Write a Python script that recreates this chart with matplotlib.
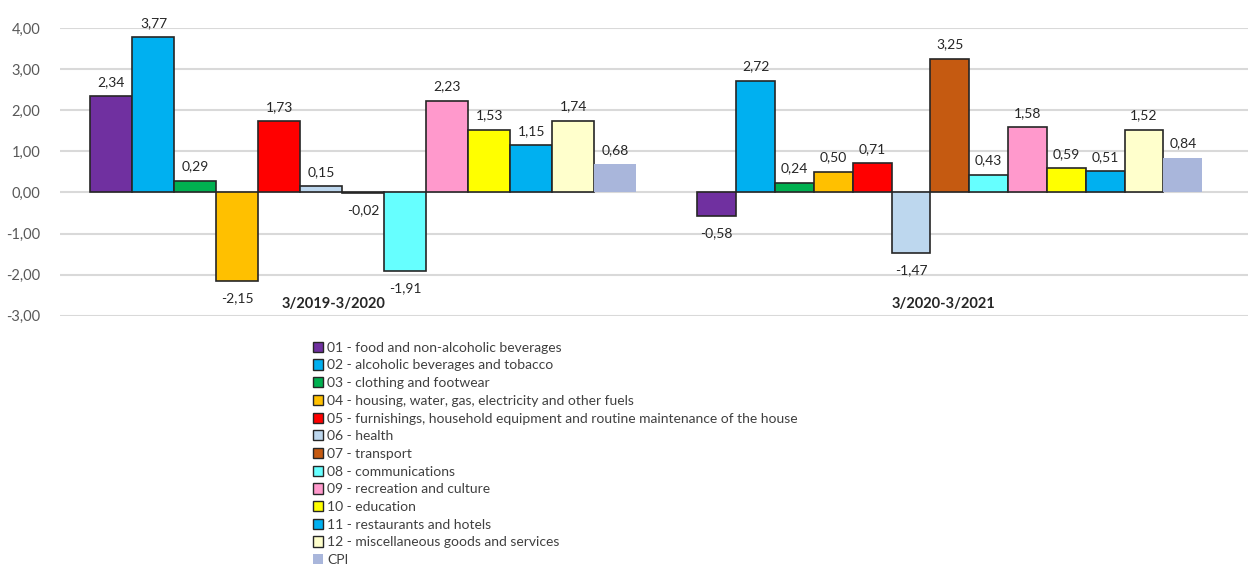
import matplotlib
matplotlib.use("Agg")
import matplotlib.pyplot as plt
import matplotlib.patches as mpatches
import numpy as np

plt.rcParams["font.family"] = ["Lato", "DejaVu Sans"]

PERIODS = ["3/2019-3/2020", "3/2020-3/2021"]
SERIES = [
    "01 - food and non-alcoholic beverages",
    "02 - alcoholic beverages and tobacco",
    "03 - clothing and footwear",
    "04 - housing, water, gas, electricity and other fuels",
    "05 - furnishings, household equipment and routine maintenance of the house",
    "06 - health",
    "07 - transport",
    "08 - communications",
    "09 - recreation and culture",
    "10 - education",
    "11 - restaurants and hotels",
    "12 - miscellaneous goods and services",
    "CPI",
]
VALUES_2020 = [2.34, 3.77, 0.29, -2.15, 1.73, 0.15, -0.02, -1.91, 2.23, 1.53, 1.15, 1.74, 0.68]
VALUES_2021 = [-0.58, 2.72, 0.24, 0.50, 0.71, -1.47, 3.25, 0.43, 1.58, 0.59, 0.51, 1.52, 0.84]
COLOURS = [
    "#7030A0", "#00B0F0", "#00B050", "#FFC000", "#FF0000", "#BDD7EE",
    "#C55A11", "#66FFFF", "#FF99CC", "#FFFF00", "#00B0F0", "#FFFFCC", "#A9B6DB",
]
Y_TICKS = [-3, -2, -1, 0, 1, 2, 3, 4]

fig = plt.figure(figsize=(12.48, 5.65), dpi=100)
ax = fig.add_axes([0.048, 0.441, 0.952, 0.5095])

values = np.array([VALUES_2020, VALUES_2021])
n = len(SERIES)
# group centres and bar widths per period
centres = np.array([0.011, 0.998])
widths = np.array([0.0707, 0.0654])

for i, (name, colour) in enumerate(zip(SERIES, COLOURS)):
    pos = centres + (i - (n - 1) / 2) * widths
    is_cpi = name == "CPI"
    ax.bar(
        pos, values[:, i], width=widths, color=colour,
        edgecolor="none" if is_cpi else "#262626",
        linewidth=0 if is_cpi else 1.2, zorder=3,
    )
    for xp, v in zip(pos, values[:, i]):
        label = "{:.2f}".format(v).replace(".", ",")
        ax.annotate(
            label, (xp, v), xytext=(0, 6 if v >= 0 else -8),
            textcoords="offset points", ha="center",
            va="bottom" if v >= 0 else "top",
            fontsize=10, color="#262626",
        )

# period labels sit inside the plot, near the bottom
for xp, period in zip([-0.04, 0.987], PERIODS):
    ax.text(xp, -2.72, period, ha="center", va="center",
            fontsize=10.5, fontweight="bold", color="#262626")

ax.set_xlim(-0.5, 1.5)
ax.set_ylim(-3, 4)
ax.set_yticks(Y_TICKS)
ax.set_yticklabels(["{:.2f}".format(t).replace(".", ",") for t in Y_TICKS])
ax.set_xticks([])
ax.tick_params(axis="y", length=0, labelsize=10.5, labelcolor="#595959", pad=14)
ax.grid(axis="y", color="#D9D9D9", linewidth=1.5, zorder=0)
for spine in ax.spines.values():
    spine.set_visible(False)

handles = [
    mpatches.Patch(facecolor=c, edgecolor="none" if s == "CPI" else "#262626",
                   linewidth=0 if s == "CPI" else 1.0, label=s)
    for s, c in zip(SERIES, COLOURS)
]
fig.legend(
    handles=handles, loc="upper left", bbox_to_anchor=(0.246, 0.405),
    frameon=False, fontsize=10, handlelength=0.75, handleheight=0.75,
    handletextpad=0.3, labelspacing=0.41, borderaxespad=0, labelcolor="#404040",
)

fig.savefig("out.png", dpi=100)
